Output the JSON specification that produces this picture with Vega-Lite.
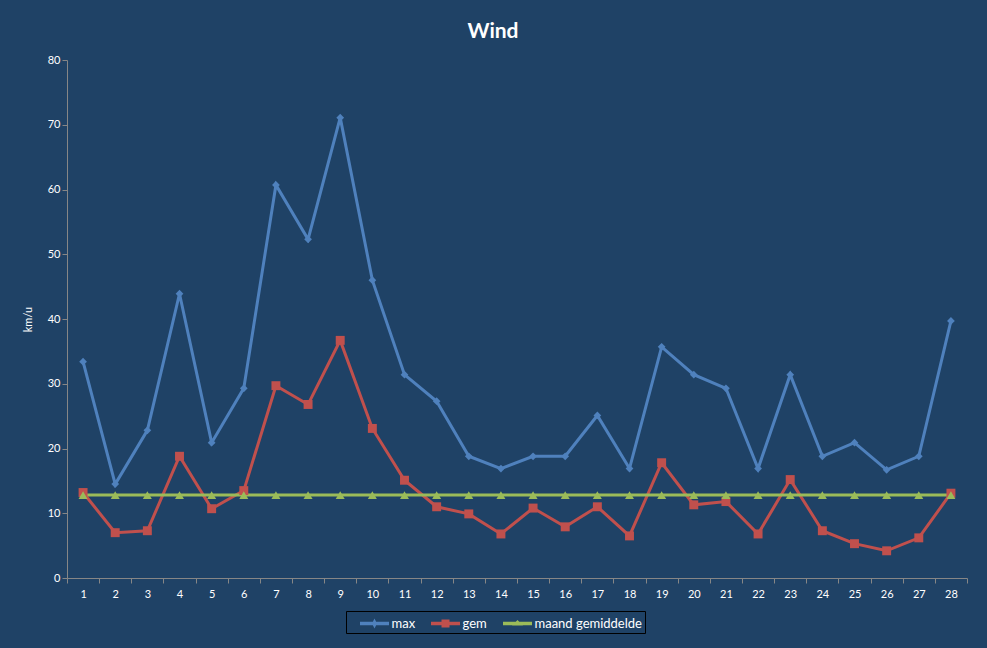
{
  "$schema": "https://vega.github.io/schema/vega-lite/v6.json",
  "description": "Wind - max, gem en maand gemiddelde",
  "width": 900,
  "height": 518,
  "autosize": {"type": "none"},
  "padding": {"left": 67, "top": 60, "right": 20, "bottom": 70},
  "background": "#1F4266",
  "title": {
    "text": "Wind",
    "color": "#FFFFFF",
    "font": "Lato",
    "fontSize": 21,
    "fontWeight": "bold",
    "anchor": "middle",
    "dx": -24,
    "offset": 12
  },
  "config": {
    "view": {"stroke": null},
    "axis": {
      "labelColor": "#FFFFFF",
      "titleColor": "#FFFFFF",
      "labelFont": "Lato",
      "titleFont": "Lato",
      "labelFontSize": 11,
      "domainColor": "#868686",
      "tickColor": "#868686",
      "grid": false
    },
    "legend": {
      "orient": "none",
      "direction": "horizontal",
      "legendX": 279,
      "legendY": 551,
      "strokeColor": "#000000",
      "padding": 2.5,
      "labelColor": "#FFFFFF",
      "labelFont": "Lato",
      "labelFontSize": 13,
      "labelOffset": 7,
      "columnPadding": 4,
      "symbolSize": 400,
      "symbolOffset": 16,
      "symbolOpacity": 1,
      "symbolStrokeWidth": 0
    }
  },
  "data": {
    "values": [
      {"day": 1, "max": 33.4, "gem": 13.2, "maand gemiddelde": 12.8},
      {"day": 2, "max": 14.5, "gem": 7.0, "maand gemiddelde": 12.8},
      {"day": 3, "max": 22.8, "gem": 7.3, "maand gemiddelde": 12.8},
      {"day": 4, "max": 43.9, "gem": 18.8, "maand gemiddelde": 12.8},
      {"day": 5, "max": 20.9, "gem": 10.7, "maand gemiddelde": 12.8},
      {"day": 6, "max": 29.3, "gem": 13.5, "maand gemiddelde": 12.8},
      {"day": 7, "max": 60.7, "gem": 29.7, "maand gemiddelde": 12.8},
      {"day": 8, "max": 52.3, "gem": 26.8, "maand gemiddelde": 12.8},
      {"day": 9, "max": 71.1, "gem": 36.7, "maand gemiddelde": 12.8},
      {"day": 10, "max": 46.0, "gem": 23.1, "maand gemiddelde": 12.8},
      {"day": 11, "max": 31.4, "gem": 15.1, "maand gemiddelde": 12.8},
      {"day": 12, "max": 27.3, "gem": 11.0, "maand gemiddelde": 12.8},
      {"day": 13, "max": 18.8, "gem": 9.9, "maand gemiddelde": 12.8},
      {"day": 14, "max": 16.9, "gem": 6.8, "maand gemiddelde": 12.8},
      {"day": 15, "max": 18.8, "gem": 10.8, "maand gemiddelde": 12.8},
      {"day": 16, "max": 18.8, "gem": 7.9, "maand gemiddelde": 12.8},
      {"day": 17, "max": 25.1, "gem": 11.0, "maand gemiddelde": 12.8},
      {"day": 18, "max": 16.9, "gem": 6.5, "maand gemiddelde": 12.8},
      {"day": 19, "max": 35.7, "gem": 17.8, "maand gemiddelde": 12.8},
      {"day": 20, "max": 31.4, "gem": 11.3, "maand gemiddelde": 12.8},
      {"day": 21, "max": 29.3, "gem": 11.8, "maand gemiddelde": 12.8},
      {"day": 22, "max": 16.9, "gem": 6.8, "maand gemiddelde": 12.8},
      {"day": 23, "max": 31.4, "gem": 15.2, "maand gemiddelde": 12.8},
      {"day": 24, "max": 18.8, "gem": 7.3, "maand gemiddelde": 12.8},
      {"day": 25, "max": 20.9, "gem": 5.3, "maand gemiddelde": 12.8},
      {"day": 26, "max": 16.7, "gem": 4.2, "maand gemiddelde": 12.8},
      {"day": 27, "max": 18.8, "gem": 6.2, "maand gemiddelde": 12.8},
      {"day": 28, "max": 39.7, "gem": 13.1, "maand gemiddelde": 12.8}
    ]
  },
  "transform": [
    {"fold": ["max", "gem", "maand gemiddelde"], "as": ["series", "value"]}
  ],
  "encoding": {
    "x": {
      "field": "day",
      "type": "ordinal",
      "bandPosition": 0.5,
      "scale": {"type": "band", "paddingInner": 0, "paddingOuter": 0},
      "axis": {
        "title": null,
        "labelAngle": 0,
        "tickBand": "extent",
        "tickSize": 5,
        "labelPadding": 5
      }
    },
    "y": {
      "field": "value",
      "type": "quantitative",
      "scale": {"domain": [0, 80]},
      "axis": {
        "title": "km/u",
        "values": [0, 10, 20, 30, 40, 50, 60, 70, 80],
        "tickSize": 5,
        "titleFontWeight": "normal",
        "titleFontSize": 11,
        "titlePadding": 14
      }
    },
    "color": {
      "field": "series",
      "type": "nominal",
      "scale": {
        "domain": ["max", "gem", "maand gemiddelde"],
        "range": ["#4F81BD", "#C0504D", "#9BBB59"]
      },
      "legend": {"title": null}
    }
  },
  "layer": [
    {
      "mark": {"type": "line", "strokeWidth": 3}
    },
    {
      "transform": [{"filter": "datum.series == 'max'"}],
      "mark": {"type": "point", "filled": true, "opacity": 1, "shape": "diamond", "size": 60}
    },
    {
      "transform": [{"filter": "datum.series == 'gem'"}],
      "mark": {"type": "point", "filled": true, "opacity": 1, "shape": "square", "size": 80}
    },
    {
      "transform": [{"filter": "datum.series == 'maand gemiddelde'"}],
      "mark": {"type": "point", "filled": true, "opacity": 1, "shape": "triangle-up", "size": 80}
    },
    {
      "mark": {"type": "point", "filled": true, "opacity": 0},
      "encoding": {
        "shape": {
          "field": "series",
          "type": "nominal",
          "scale": {
            "domain": ["max", "gem", "maand gemiddelde"],
            "range": [
              "M-1.45,-0.165H1.45V0.165H-1.45Z M0,-0.5L0.25,0L0,0.5L-0.25,0Z",
              "M-1.45,-0.165H1.45V0.165H-1.45Z M-0.4,-0.4H0.4V0.4H-0.4Z",
              "M-1.45,-0.165H1.45V0.165H-1.45Z M0,-0.35L0.55,0.2H-0.55Z"
            ]
          },
          "legend": {"title": null}
        }
      }
    }
  ]
}
